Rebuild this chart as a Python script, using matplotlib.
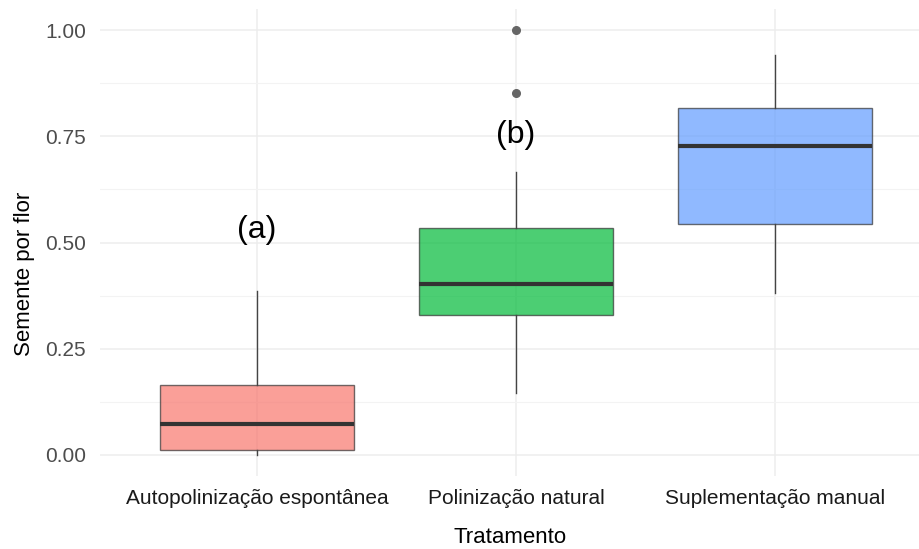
import matplotlib
matplotlib.use("Agg")
from matplotlib import pyplot as plt

# data
tratamentos = ['Autopolinização espontânea', 'Polinização natural', 'Suplementação manual']
q1 = [0.012, 0.329, 0.544]
mediana = [0.073, 0.402, 0.727]
q3 = [0.165, 0.534, 0.816]
whis_lo = [0.0, 0.146, 0.381]
whis_hi = [0.386, 0.666, 0.941]
outliers = [[], [0.852, 1.0], []]
cores = ['#F8766D', '#00BA38', '#619CFF']
letras = ['(a)', '(b)']
letras_y = [0.53, 0.753]

plt.rcParams['font.family'] = ['Liberation Sans', 'DejaVu Sans']

fig = plt.figure(figsize=(9.2, 5.49), dpi=100)
ax = fig.add_axes([100 / 920, 73 / 549, 820 / 920, 467 / 549])

stats = []
for i in range(len(tratamentos)):
    stats.append({'q1': q1[i], 'med': mediana[i], 'q3': q3[i],
                  'whislo': whis_lo[i], 'whishi': whis_hi[i],
                  'fliers': outliers[i], 'label': tratamentos[i]})

bp = ax.bxp(stats, positions=[1, 2, 3], widths=0.75, patch_artist=True,
            showcaps=False,
            boxprops=dict(edgecolor='#333333', linewidth=1.0),
            medianprops=dict(color='#333333', linewidth=3),
            whiskerprops=dict(color='#444444', linewidth=1.0),
            flierprops=dict(marker='o', markerfacecolor='#666666',
                            markeredgecolor='#666666', markersize=5.5))
for patch, c in zip(bp['boxes'], cores):
    patch.set_facecolor(c)
    patch.set_alpha(0.7)
    patch.set_edgecolor('#333333')

for i, (t, yy) in enumerate(zip(letras, letras_y)):
    ax.text(i + 1, yy, t, ha='center', va='center', fontsize=23, color='black')

ax.set_xlim(0.394, 3.56)
ax.set_ylim(-0.05, 1.05)
ax.set_yticks([0, 0.25, 0.5, 0.75, 1.0])
ax.set_yticklabels(['0.00', '0.25', '0.50', '0.75', '1.00'])
ax.set_yticks([0.125, 0.375, 0.625, 0.875], minor=True)
ax.set_xticks([1, 2, 3])
ax.set_xticklabels(tratamentos)

ax.grid(True, which='major', color='#EDEDED', linewidth=1.1, zorder=0)
ax.grid(True, which='minor', axis='y', color='#F3F3F3', linewidth=0.8, zorder=0)
ax.set_axisbelow(True)
for s in ax.spines.values():
    s.set_visible(False)
ax.tick_params(which='both', length=0)
ax.tick_params(axis='y', labelsize=15, labelcolor='#4D4D4D', pad=10)
ax.tick_params(axis='x', labelsize=15, labelcolor='#1A1A1A', pad=9)

ax.set_xlabel('Tratamento', fontsize=16, labelpad=14)
ax.set_ylabel('Semente por flor', fontsize=16)
ax.yaxis.set_label_coords(-0.079, 0.4325)

fig.savefig('out.png', dpi=100, facecolor='white')
